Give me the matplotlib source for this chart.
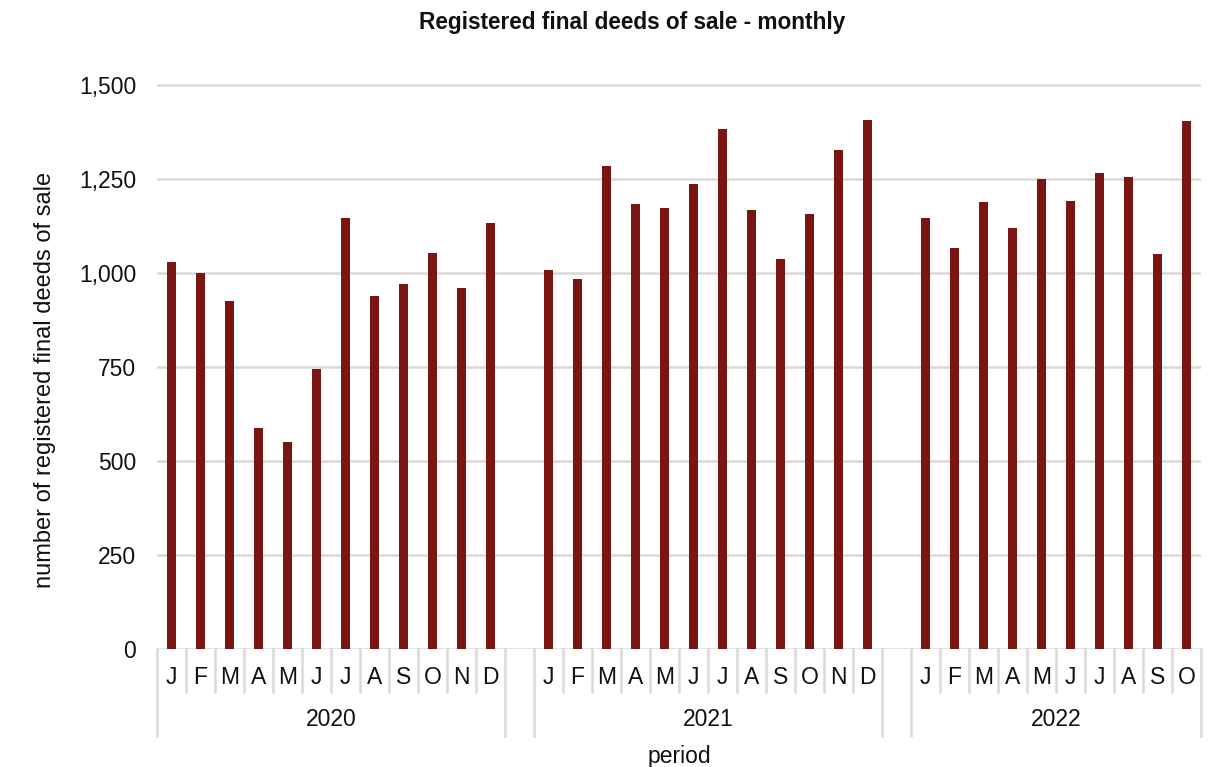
import matplotlib
matplotlib.use("Agg")
import matplotlib.pyplot as plt
from matplotlib.transforms import blended_transform_factory
from matplotlib.lines import Line2D

plt.rcParams['font.family'] = ['Liberation Sans', 'DejaVu Sans']

years = ["2020", "2021", "2022"]
months = ["J", "F", "M", "A", "M", "J", "J", "A", "S", "O", "N", "D"]
values_2020 = [1030, 1000, 925, 589, 551, 745, 1147, 939, 972, 1052, 960, 1133]
values_2021 = [1008, 983, 1284, 1184, 1173, 1238, 1384, 1168, 1038, 1156, 1328, 1407]
values_2022 = [1147, 1066, 1188, 1121, 1250, 1192, 1267, 1256, 1051, 1403]
series = [values_2020, values_2021, values_2022]
yticks = [0, 250, 500, 750, 1000, 1250, 1500]

W, H = 1230, 767
fig = plt.figure(figsize=(W / 100, H / 100), dpi=100)

ax_left, ax_right = 157, 1201
y0_px, y1500_px = 649, 85
ymax = 1560
top_px = y0_px - (y0_px - y1500_px) * ymax / 1500
ax = fig.add_axes([ax_left / W, 1 - y0_px / H, (ax_right - ax_left) / W, (y0_px - top_px) / H])

bar_color = "#7B1512"
grid_color = "#D9D9D9"
text_color = "#111111"
fs = 16.5

# compute slot positions: groups separated by one empty slot
positions = []
start = 0
group_ranges = []
for vals in series:
    pos = list(range(start, start + len(vals)))
    positions.append(pos)
    group_ranges.append((start, start + len(vals) - 1))
    start += len(vals) + 1
nslots = start - 1

for pos, vals in zip(positions, series):
    ax.bar(pos, vals, width=0.335, color=bar_color, zorder=3)

ax.set_xlim(-0.5, nslots - 0.5)
ax.set_ylim(0, ymax)
ax.set_yticks(yticks)
ax.set_yticklabels([f"{v:,}" for v in yticks])
ax.tick_params(axis='y', length=0, pad=15, labelsize=fs, labelcolor=text_color)
ax.set_xticks([])
for s in ax.spines.values():
    s.set_visible(False)
ax.yaxis.grid(True, color=grid_color, linewidth=1.8, zorder=0)
ax.set_axisbelow(True)

trans = blended_transform_factory(ax.transData, fig.transFigure)
def fy(px):
    return 1 - px / H

short_bot, long_bot = 692, 736
for (a, b), year, pos in zip(group_ranges, years, positions):
    for x in (a - 0.5, b + 0.5):
        fig.add_artist(Line2D([x, x], [fy(y0_px), fy(long_bot)], transform=trans,
                              color=grid_color, linewidth=1.8))
    for x in range(a, b):
        fig.add_artist(Line2D([x + 0.5, x + 0.5], [fy(y0_px), fy(short_bot)], transform=trans,
                              color=grid_color, linewidth=1.8))
    for i, x in enumerate(pos):
        fig.text(x, fy(678), months[i], transform=trans, ha='center', va='center',
                 fontsize=fs, color=text_color)
    fig.text((a + b) / 2, fy(720), year, transform=trans, ha='center', va='center',
             fontsize=fs, color=text_color)

fig.text((ax_left + ax_right) / 2 / W, fy(757), "period", ha='center', va='center',
         fontsize=fs, color=text_color)
fig.text(45 / W, fy(380), "number of registered final deeds of sale", rotation=90,
         ha='center', va='center', fontsize=17, color=text_color)
fig.text(632 / W, fy(22), "Registered final deeds of sale - monthly", ha='center', va='center',
         fontsize=16.3, fontweight='bold', color=text_color)

fig.savefig("out.png", dpi=100, facecolor="white")
